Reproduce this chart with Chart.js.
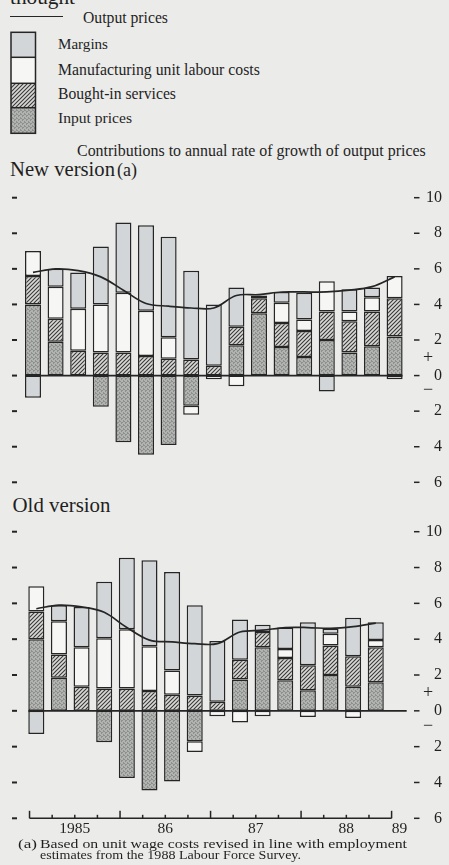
<!DOCTYPE html>
<html><head><meta charset="utf-8">
<script src="https://cdn.jsdelivr.net/npm/chart.js@4/dist/chart.umd.min.js"></script>
<style>
html,body{margin:0;padding:0;}
body{width:449px;height:865px;background:#ebebe9;position:relative;overflow:hidden;font-family:'Liberation Serif','Times New Roman',serif;color:#1f1f1f;}
.t{position:absolute;white-space:nowrap;line-height:1;transform-origin:0 0;}
canvas{position:absolute;left:0;}
</style></head><body>
<div class="t" data-x="10" data-b="4.5" data-w="65" data-f="21">thought</div>
<div style="position:absolute;left:10px;top:16px;width:53px;height:0;border-top:1.6px solid #262626"></div>
<div class="t" data-x="83" data-b="22.7" data-w="85" data-f="15">Output prices</div>
<canvas id="leg" width="30" height="108" style="left:9px;top:30px"></canvas>
<div class="t" data-x="58" data-b="49.3" data-w="50" data-f="15">Margins</div>
<div class="t" data-x="58" data-b="75" data-w="202" data-f="15">Manufacturing unit labour costs</div>
<div class="t" data-x="58" data-b="99.3" data-w="118" data-f="15">Bought-in services</div>
<div class="t" data-x="58" data-b="122.7" data-w="74" data-f="15">Input prices</div>
<div class="t" data-x="77" data-b="156.7" data-w="349" data-f="15">Contributions to annual rate of growth of output prices</div>
<div class="t" data-x="10" data-b="176" data-w="105" data-f="21">New version</div>
<div class="t" data-x="117" data-b="176" data-w="20" data-f="15">(a)</div>
<div class="t" data-x="12.5" data-b="512.3" data-w="98" data-f="21">Old version</div>
<canvas id="cNew" width="449" height="310" style="top:185px"></canvas>
<canvas id="cOld" width="449" height="345" style="top:515px"></canvas>
<div class="t" data-x="18" data-b="848" data-w="19" data-f="13" data-sx="1">(a)</div>
<div class="t" data-x="40" data-b="848" data-w="367" data-f="13" data-sx="1">Based on unit wage costs revised in line with employment</div>
<div class="t" data-x="40" data-b="858.8" data-w="261" data-f="13" data-sx="1">estimates from the 1988 Labour Force Survey.</div>
<script>
// ---------- data ----------
const quarters = ['1985 Q1','1985 Q2','1985 Q3','1985 Q4','1986 Q1','1986 Q2','1986 Q3','1986 Q4',
                  '1987 Q1','1987 Q2','1987 Q3','1987 Q4','1988 Q1','1988 Q2','1988 Q3','1988 Q4','1989 Q1'];
const yearLabels = ['1985','86','87','88','89'];
const valueAxis = {min:-6, max:10, step:2};

// New version (a)
const newInputPrices  = [4.0, 1.9, null, -1.75, -3.75, -4.45, -3.9, -1.7, null, 1.7, 3.5, 1.6, 1.05, 2.0, 1.3, 1.65, 2.2];
const newBoughtIn     = [1.6, 1.3, 1.4, 1.3, 1.3, 1.1, 0.95, 0.9, 0.55, 1.05, 0.85, 1.35, 1.45, 1.6, 1.75, 1.95, 2.15];
const newUnitLabour   = [1.4, 1.8, 2.35, 2.7, 3.35, 2.55, 1.2, -0.5, -0.2, -0.6, null, 1.15, 0.65, 1.7, 0.55, 0.8, 1.25];
const newMargins      = [-1.25, 1.0, 2.05, 3.25, 3.95, 4.8, 5.65, 5.0, 3.45, 2.2, 0.15, 0.6, 1.5, -0.9, 1.25, 0.55, -0.2];
const newOutputPrices = [5.8, 6.0, 5.9, 5.55, 4.8, 4.05, 3.9, 3.8, 3.8, 4.5, 4.55, 4.7, 4.7, 4.7, 4.8, 5.0, 5.55];

// Old version
const oldInputPrices  = [4.0, 1.85, null, -1.75, -3.75, -4.45, -3.95, -1.7, null, 1.75, 3.55, 1.7, 1.15, 2.0, 1.35, 1.6];
const oldBoughtIn     = [1.55, 1.3, 1.35, 1.25, 1.25, 1.1, 0.9, 0.85, 0.5, 1.1, 0.85, 1.25, 1.4, 1.65, 1.7, 1.95];
const oldUnitLabour   = [1.4, 1.85, 2.2, 2.8, 3.3, 2.5, 1.35, -0.6, -0.3, -0.65, -0.3, 0.5, -0.35, 0.65, -0.4, 0.4];
const oldMargins      = [-1.3, 0.9, 2.25, 3.15, 4.0, 4.8, 5.5, 5.05, 3.4, 2.25, 0.4, 1.2, 2.4, 0.3, 2.15, 1.0];
const oldOutputPrices = [5.7, 5.9, 5.8, 5.5, 4.65, 3.95, 3.85, 3.75, 3.75, 4.4, 4.5, 4.65, 4.65, 4.6, 4.7, 4.9];

// ---------- styling ----------
const FONT = "'Liberation Serif', 'Times New Roman', serif";
const INK = '#252525';
const BAR_PCT = 0.71;

function hatchPattern(){
  const c=document.createElement('canvas'); c.width=4; c.height=4;
  const g=c.getContext('2d');
  g.fillStyle='#d9d9d7'; g.fillRect(0,0,4,4);
  g.strokeStyle='#3a3a3a'; g.lineWidth=1.1;
  g.beginPath(); g.moveTo(-1,5); g.lineTo(5,-1); g.moveTo(-1,1); g.lineTo(1,-1); g.moveTo(3,5); g.lineTo(5,3); g.stroke();
  return g.createPattern(c,'repeat');
}
function stipplePattern(){
  const c=document.createElement('canvas'); c.width=4; c.height=4;
  const g=c.getContext('2d');
  g.fillStyle='#b1b3b0'; g.fillRect(0,0,4,4);
  g.fillStyle='#8d908d';
  [[0,0],[2,1],[1,2],[3,3],[3,0],[1,1]].forEach(p=>g.fillRect(p[0],p[1],1,1));
  return g.createPattern(c,'repeat');
}
const fillMargins = '#d3d6d8';
const fillLabour = '#f6f6f4';
const fillHatch = hatchPattern();
const fillInput = stipplePattern();

// ---------- text placement ----------
document.querySelectorAll('.t').forEach(el=>{
  const f=+el.dataset.f; el.style.fontSize=f+'px';
  const w=el.getBoundingClientRect().width;
  let f2=f;
  if(el.dataset.sx){
    el.style.transform='scaleX('+((+el.dataset.w)/w).toFixed(4)+')';
  } else {
    f2=f*(+el.dataset.w)/w;
    el.style.fontSize=f2.toFixed(2)+'px';
  }
  el.style.left=el.dataset.x+'px';
  el.style.top=(+el.dataset.b - 0.8375*f2).toFixed(2)+'px';
});

// ---------- legend swatch ----------
(function(){
  const g=document.getElementById('leg').getContext('2d');
  const x0=2, w=24.5, tops=[2.3,27.3,53.3,77.7,103.3];
  const fills=[fillMargins,fillLabour,fillHatch,fillInput];
  fills.forEach((f,i)=>{ g.fillStyle=f; g.fillRect(x0,tops[i],w,tops[i+1]-tops[i]); });
  g.strokeStyle=INK; g.lineWidth=1.5;
  g.strokeRect(x0,tops[0],w,tops[4]-tops[0]);
  for(let i=1;i<4;i++){ g.beginPath(); g.moveTo(x0,tops[i]); g.lineTo(x0+w,tops[i]); g.stroke(); }
})();

// ---------- decoration plugin ----------
const deco = {
  id:'deco',
  afterDatasetsDraw(chart, args, o){
    const {ctx, chartArea, scales:{x,y}} = chart;
    const step = x.getPixelForValue(1)-x.getPixelForValue(0);
    const bw = step*BAR_PCT;
    const zy = y.getPixelForValue(0);
    const x0 = x.getPixelForValue(0)-bw/2;
    const x1 = o.zeroToArea ? chartArea.right-3 : x.getPixelForValue(quarters.length-1)+bw/2;
    ctx.save(); ctx.strokeStyle=INK; ctx.lineWidth=1.6;
    ctx.beginPath(); ctx.moveTo(x0,zy); ctx.lineTo(x1,zy); ctx.stroke(); ctx.restore();
  },
  afterDraw(chart, args, o){
    const {ctx, scales:{x,y}} = chart;
    ctx.save(); ctx.strokeStyle=INK; ctx.fillStyle=INK;
    y.ticks.forEach(t=>{
      const py=y.getPixelForValue(t.value);
      ctx.lineWidth=2; ctx.beginPath(); ctx.moveTo(12,py); ctx.lineTo(17,py); ctx.stroke();
      ctx.lineWidth=1.5; ctx.beginPath(); ctx.moveTo(414,py); ctx.lineTo(419.5,py); ctx.stroke();
    });
    ctx.font='18px '+FONT; ctx.textAlign='center'; ctx.textBaseline='middle';
    ctx.fillText('+',428,y.getPixelForValue(1));
    ctx.fillText('\u2212',428,y.getPixelForValue(-0.85));
    if(o.timeAxis){
      const ay=y.getPixelForValue(valueAxis.min);
      const off=-0.3;
      ctx.lineWidth=1.5;
      ctx.beginPath(); ctx.moveTo(x.getPixelForValue(off),ay); ctx.lineTo(x.getPixelForValue(quarters.length-1+off),ay); ctx.stroke();
      for(let i=0;i<quarters.length;i++){
        const px=x.getPixelForValue(i+off);
        const len=(i%4===0)?7.5:3.5;
        ctx.beginPath(); ctx.moveTo(px,ay); ctx.lineTo(px,ay-len); ctx.stroke();
      }
      ctx.font='15.5px '+FONT; ctx.textBaseline='alphabetic';
      yearLabels.forEach((lab,k)=>{
        const pos = k<4 ? 4*k+2+off : quarters.length-1+0.05;
        ctx.fillText(lab,x.getPixelForValue(pos),ay+15);
      });
    }
    ctx.restore();
  }
};

function build(id, inp, bought, labour, margins, output, pad, yWidth, opts){
  const bar = (label, data, fill)=>({type:'bar', label, data, backgroundColor:fill, borderColor:INK,
    borderWidth:1.5, borderSkipped:false, categoryPercentage:1, barPercentage:BAR_PCT, order:1});
  return new Chart(document.getElementById(id), {
    data:{
      labels: quarters,
      datasets:[
        {type:'line', label:'Output prices', data:output, borderColor:INK, borderWidth:1.7,
         pointRadius:0, tension:0.35, fill:false, order:0, stack:'line'},
        bar('Input prices', inp, fillInput),
        bar('Bought-in services', bought, fillHatch),
        bar('Manufacturing unit labour costs', labour, fillLabour),
        bar('Margins', margins, fillMargins)
      ]
    },
    options:{
      responsive:false, animation:false, events:[],
      layout:{padding:pad},
      plugins:{legend:{display:false}, tooltip:{enabled:false}, deco:opts},
      scales:{
        x:{type:'category', display:false, offset:true, stacked:true, grid:{display:false}},
        y:{position:'right', min:valueAxis.min, max:valueAxis.max, stacked:true,
           grid:{display:false, drawTicks:false}, border:{display:false},
           ticks:{stepSize:valueAxis.step, callback:v=>String(Math.abs(v)), color:'#1f1f1f',
                  font:{family:FONT, size:16}, crossAlign:'far', padding:0},
           afterFit:s=>{ s.width=yWidth; }}
      }
    },
    plugins:[deco]
  });
}

build('cNew', newInputPrices, newBoughtIn, newUnitLabour, newMargins, newOutputPrices,
      {left:21.7, right:7, top:12.7, bottom:12.7}, 36.1, {zeroToArea:false, timeAxis:false});
build('cOld', oldInputPrices, oldBoughtIn, oldUnitLabour, oldMargins, oldOutputPrices,
      {left:25, right:7, top:16.7, bottom:41.7}, 32.3, {zeroToArea:true, timeAxis:true});
</script>
</body></html>
